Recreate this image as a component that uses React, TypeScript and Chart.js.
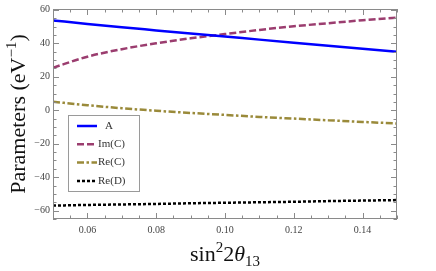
import React, { useEffect, useRef } from "react";
import { Chart, registerables } from "chart.js";

Chart.register(...registerables);

const xValues = [0.05, 0.06, 0.07, 0.08, 0.09, 0.1, 0.11, 0.12, 0.13, 0.14, 0.15];
const seriesA = [53.7, 51.6, 49.6, 47.7, 45.8, 44.0, 42.2, 40.4, 38.6, 36.8, 35.0];
const seriesImC = [25.4, 32.0, 36.5, 40.0, 43.0, 45.5, 48.0, 50.2, 52.0, 53.8, 55.4];
const seriesReC = [5.1, 3.0, 1.2, -0.3, -1.6, -2.8, -4.0, -5.0, -6.0, -7.0, -7.9];
const seriesReD = [-57.0, -56.6, -56.3, -56.0, -55.6, -55.3, -55.0, -54.7, -54.3, -54.0, -53.7];
const xTicks = [0.06, 0.08, 0.1, 0.12, 0.14];
const yTicks = [-60, -40, -20, 0, 20, 40, 60];
const legendLabels = ["A", "Im(C)", "Re(C)", "Re(D)"];

const COLORS = ["#0000ff", "#9b3d6f", "#9a8a3a", "#000000"];
const DASHES: number[][] = [[], [7, 3], [7, 2.5, 2.5, 2.5], [3, 2]];
const SERIF = "'Liberation Serif', 'DejaVu Serif', serif";

const fmtMinus = (s: string) => s.replace("-", "\u2212");

const decorPlugin = {
  id: "decor",
  afterDraw(chart: any) {
    const { ctx, chartArea } = chart;
    const { left, right, top, bottom } = chartArea;
    const xs = chart.scales.x;
    const ys = chart.scales.y;
    ctx.save();
    // frame
    ctx.strokeStyle = "#8a8a8a";
    ctx.lineWidth = 1;
    ctx.setLineDash([]);
    ctx.strokeRect(left + 0.5, top + 0.5, right - left - 1, bottom - top - 1);
    // x ticks (major + minor), top and bottom, inward
    ctx.beginPath();
    for (let i = 0; i <= 20; i++) {
      const v = 0.05 + i * 0.005;
      const px = Math.round(xs.getPixelForValue(v)) + 0.5;
      const major = xTicks.some((t) => Math.abs(t - v) < 1e-6);
      const len = major ? 6 : 3.5;
      ctx.moveTo(px, bottom);
      ctx.lineTo(px, bottom - len);
      ctx.moveTo(px, top);
      ctx.lineTo(px, top + len);
    }
    for (let v = -65; v <= 60; v += 5) {
      const py = Math.round(ys.getPixelForValue(v)) + 0.5;
      const major = yTicks.includes(v);
      const len = major ? 6 : 3.5;
      ctx.moveTo(left, py);
      ctx.lineTo(left + len, py);
      ctx.moveTo(right, py);
      ctx.lineTo(right - len, py);
    }
    ctx.stroke();

    // legend box
    const lx = 68, ly = 115, lw = 71, lh = 76;
    ctx.fillStyle = "#ffffff";
    ctx.fillRect(lx, ly, lw, lh);
    ctx.strokeStyle = "#9a9a9a";
    ctx.strokeRect(lx + 0.5, ly + 0.5, lw, lh);
    legendLabels.forEach((lab, i) => {
      const yy = 126 + i * 18.3;
      ctx.strokeStyle = COLORS[i];
      ctx.lineWidth = 2.5;
      ctx.setLineDash(DASHES[i]);
      ctx.beginPath();
      ctx.moveTo(77, yy);
      ctx.lineTo(97, yy);
      ctx.stroke();
      ctx.setLineDash([]);
      ctx.fillStyle = "#333333";
      ctx.font = `11px ${SERIF}`;
      ctx.textBaseline = "middle";
      ctx.textAlign = "left";
      ctx.fillText(lab, i === 0 ? 105 : 98, yy);
    });

    // x title: sin^2 2θ_13
    const big = `22px ${SERIF}`;
    const bigI = `italic 22px ${SERIF}`;
    const small = `15px ${SERIF}`;
    const parts = [
      { t: "sin", f: big, dy: 0 },
      { t: "2", f: small, dy: -9 },
      { t: "2", f: big, dy: 0 },
      { t: "\u03b8", f: bigI, dy: 0 },
      { t: "13", f: small, dy: 5 },
    ];
    let total = 0;
    parts.forEach((p) => {
      ctx.font = p.f;
      total += ctx.measureText(p.t).width;
    });
    let cx = (left + right) / 2 - total / 2;
    ctx.fillStyle = "#111111";
    ctx.textBaseline = "alphabetic";
    ctx.textAlign = "left";
    parts.forEach((p) => {
      ctx.font = p.f;
      ctx.fillText(p.t, cx, 261 + p.dy);
      cx += ctx.measureText(p.t).width;
    });

    // y title: Parameters (eV^-1)
    const yparts = [
      { t: "Parameters (eV", f: big, dy: 0 },
      { t: "\u22121", f: small, dy: -9 },
      { t: ")", f: big, dy: 0 },
    ];
    let ytot = 0;
    yparts.forEach((p) => {
      ctx.font = p.f;
      ytot += ctx.measureText(p.t).width;
    });
    ctx.translate(25, (top + bottom) / 2);
    ctx.rotate(-Math.PI / 2);
    let cy = -ytot / 2;
    yparts.forEach((p) => {
      ctx.font = p.f;
      ctx.fillText(p.t, cy, p.dy);
      cy += ctx.measureText(p.t).width;
    });
    ctx.restore();
  },
};

export default function App() {
  const ref = useRef<HTMLCanvasElement | null>(null);
  useEffect(() => {
    document.body.style.margin = "0";
    const canvas = ref.current!;
    const mk = (vals: number[]) => xValues.map((x, i) => ({ x, y: vals[i] }));
    const all = [seriesA, seriesImC, seriesReC, seriesReD];
    const chart = new Chart(canvas, {
      type: "line",
      data: {
        datasets: all.map((vals, i) => ({
          label: legendLabels[i],
          data: mk(vals),
          borderColor: COLORS[i],
          borderWidth: 2.5,
          borderDash: DASHES[i],
          pointRadius: 0,
          fill: false,
          cubicInterpolationMode: "monotone" as const,
        })),
      },
      options: {
        animation: false,
        responsive: false,
        maintainAspectRatio: false,
        layout: { padding: { left: 0, right: 39, top: 6, bottom: 0 } },
        plugins: { legend: { display: false }, tooltip: { enabled: false } },
        scales: {
          x: {
            type: "linear",
            min: 0.05,
            max: 0.15,
            grid: { display: false, drawTicks: false },
            border: { display: false },
            afterBuildTicks: (s: any) => {
              s.ticks = xTicks.map((v) => ({ value: v }));
            },
            afterFit: (s: any) => {
              s.height = 52;
            },
            ticks: {
              padding: 5,
              color: "#444444",
              font: { family: SERIF, size: 10 },
              callback: (v: any) => Number(v).toFixed(2),
            },
          },
          y: {
            type: "linear",
            min: -65,
            max: 60.5,
            grid: { display: false, drawTicks: false },
            border: { display: false },
            afterBuildTicks: (s: any) => {
              s.ticks = yTicks.map((v) => ({ value: v }));
            },
            afterFit: (s: any) => {
              s.width = 53;
            },
            ticks: {
              padding: 3,
              color: "#444444",
              font: { family: SERIF, size: 10 },
              callback: (v: any) => fmtMinus(String(v)),
            },
          },
        },
      },
      plugins: [decorPlugin],
    });
    return () => chart.destroy();
  }, []);
  return <canvas ref={ref} width={436} height={271} style={{ display: "block" }} />;
}
